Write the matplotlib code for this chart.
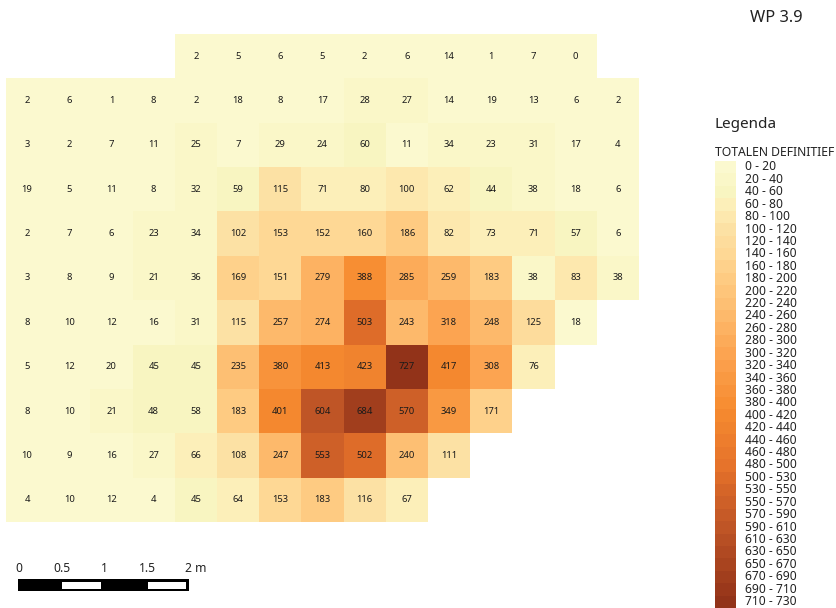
import numpy as np
import matplotlib.pyplot as plt
from matplotlib.colors import LinearSegmentedColormap, ListedColormap, BoundaryNorm

# counts per grid cell, None = no cell
row_0 = [None, None, None, None, 2, 5, 6, 5, 2, 6, 14, 1, 7, 0, None]
row_1 = [2, 6, 1, 8, 2, 18, 8, 17, 28, 27, 14, 19, 13, 6, 2]
row_2 = [3, 2, 7, 11, 25, 7, 29, 24, 60, 11, 34, 23, 31, 17, 4]
row_3 = [19, 5, 11, 8, 32, 59, 115, 71, 80, 100, 62, 44, 38, 18, 6]
row_4 = [2, 7, 6, 23, 34, 102, 153, 152, 160, 186, 82, 73, 71, 57, 6]
row_5 = [3, 8, 9, 21, 36, 169, 151, 279, 388, 285, 259, 183, 38, 83, 38]
row_6 = [8, 10, 12, 16, 31, 115, 257, 274, 503, 243, 318, 248, 125, 18, None]
row_7 = [5, 12, 20, 45, 45, 235, 380, 413, 423, 727, 417, 308, 76, None, None]
row_8 = [8, 10, 21, 48, 58, 183, 401, 604, 684, 570, 349, 171, None, None, None]
row_9 = [10, 9, 16, 27, 66, 108, 247, 553, 502, 240, 111, None, None, None, None]
row_10 = [4, 10, 12, 4, 45, 64, 153, 183, 116, 67, None, None, None, None, None]
rows = [row_0, row_1, row_2, row_3, row_4, row_5, row_6, row_7, row_8, row_9, row_10]

# legend classes
class_edges = list(range(0, 501, 20)) + list(range(530, 731, 20))
class_labels = [f"{a} - {b}" for a, b in zip(class_edges[:-1], class_edges[1:])]
class_mids = [(a + b) / 2 for a, b in zip(class_edges[:-1], class_edges[1:])]

scale_labels = ["0", "0.5", "1", "1.5", "2 m"]

color_stops = [(0, "#fcfad2"), (50, "#f8f5c1"), (70, "#fcefb9"), (90, "#fde8ae"),
               (110, "#fce1a4"), (150, "#fed895"), (190, "#fecb82"), (250, "#fdb96b"),
               (310, "#fca451"), (400, "#f68b30"), (500, "#e4702a"),
               (600, "#bf5526"), (730, "#8f3018")]

ramp = LinearSegmentedColormap.from_list("totalen", [(v / 730, c) for v, c in color_stops], N=730)
class_colors = [ramp(m / 730) for m in class_mids]
cmap = ListedColormap(class_colors)
norm = BoundaryNorm(class_edges, len(class_colors), clip=True)

plt.rcParams["font.family"] = ["Noto Sans", "DejaVu Sans"]

fig = plt.figure(figsize=(8.37, 6.08), dpi=100)
# whole figure in pixel coordinates, like a print layout
ax = fig.add_axes([0, 0, 1, 1])
ax.set_xlim(0, 837)
ax.set_ylim(608, 0)
ax.axis("off")

# Grid
values = np.ma.masked_invalid(np.array(rows, dtype=float))
x_edges = np.linspace(6, 639, values.shape[1] + 1)
y_edges = np.linspace(34, 522, values.shape[0] + 1)
# classes include their upper edge, so 60 falls in 40 - 60
ax.pcolormesh(x_edges, y_edges, values - 0.5, cmap=cmap, norm=norm, edgecolors="face", linewidth=0)

x_mid = (x_edges[:-1] + x_edges[1:]) / 2
y_mid = (y_edges[:-1] + y_edges[1:]) / 2
for i, row in enumerate(rows):
    for j, value in enumerate(row):
        if value is not None:
            ax.text(x_mid[j], y_mid[i], str(value), fontsize=6.8, ha="center", va="center", color="#1a1a1a")

# Legend
ax.text(750, 18, "WP 3.9", fontsize=11.8, va="center", color="#222222")
ax.text(715, 125, "Legenda", fontsize=11, va="center", color="#222222")
ax.text(715, 152, "TOTALEN DEFINITIEF", fontsize=8.8, va="center", color="#222222")

legend_top = 161
legend_step = 12.42
for k, label in enumerate(class_labels):
    y = legend_top + k * legend_step
    ax.fill_between([715, 736], y, y + legend_step, color=class_colors[k], linewidth=0)
    ax.text(745.5, y + legend_step / 2 - 0.3, label, fontsize=8.7, va="center", color="#222222")

# Scale bar
scale_x = np.linspace(18, 189, len(scale_labels))
ax.fill_between([scale_x[0], scale_x[-1]], 579, 591, color="black", linewidth=0)
for k in range(len(scale_labels) - 1):
    if k % 2 == 1:
        ax.fill_between([scale_x[k] + 1.5, scale_x[k + 1] - 2.5], 581.7, 588.7, color="white", linewidth=0)
for k, label in enumerate(scale_labels):
    if label.endswith("m"):
        ax.text(scale_x[k] - 4, 568, label, fontsize=8.7, ha="left", va="center", color="#222222")
    else:
        ax.text(scale_x[k] + 1, 568, label, fontsize=8.7, ha="center", va="center", color="#222222")

fig.savefig("out.png", dpi=100)
